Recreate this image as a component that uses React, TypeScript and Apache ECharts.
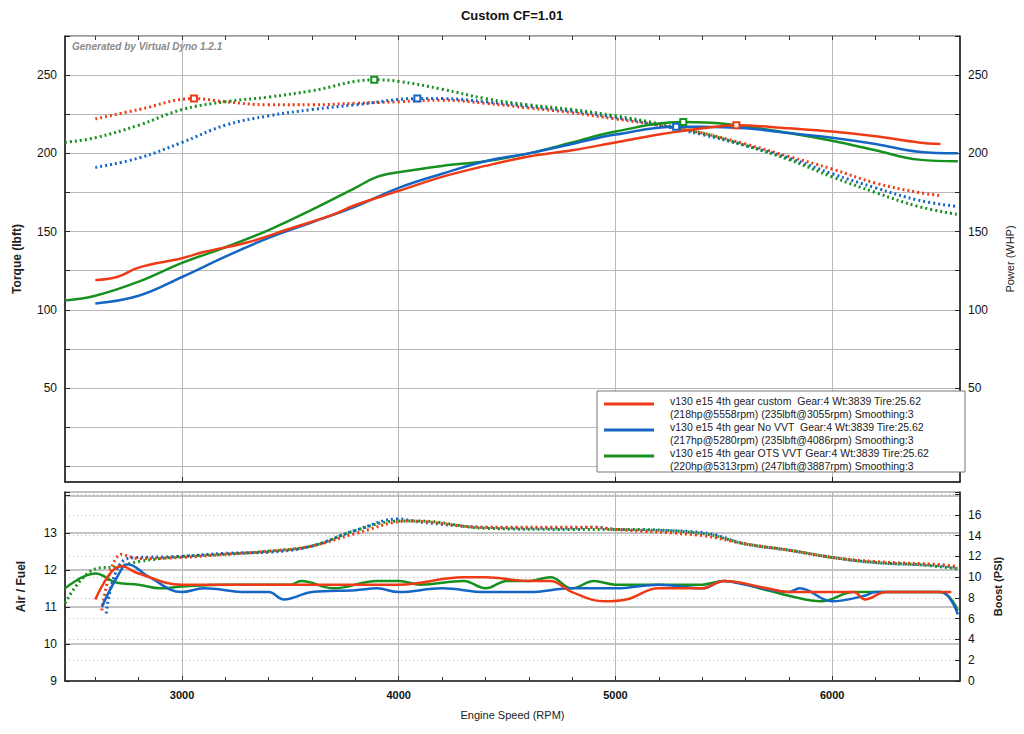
import { useEffect, useRef } from 'react'
import * as echarts from 'echarts'

type P = [number, number]

const RED = '#ee3b16'
const BLUE = '#1566c4'
const GREEN = '#16911f'

// torque (lbft), dotted, left axis
const torqueRed: P[] = [[2600,222],[2800,228],[3055,235],[3200,233],[3400,231],[3600,231],[3800,232],[4000,233],[4200,234],[4400,232],[4600,229],[4800,226],[5000,222],[5200,218],[5400,213],[5600,206],[5800,198],[6000,190],[6200,181],[6400,175],[6500,173]]
const torqueBlue: P[] = [[2600,191],[2800,197],[3000,207],[3200,218],[3400,224],[3600,228],[3800,231],[4086,235],[4200,235],[4400,233],[4600,230],[4800,227],[5000,223],[5200,218],[5400,212],[5600,205],[5800,197],[6000,187],[6200,178],[6400,170],[6580,166]]
const torqueGreen: P[] = [[2460,207],[2600,210],[2800,218],[3000,228],[3200,233],[3400,236],[3600,240],[3887,247],[4000,246],[4200,241],[4400,235],[4600,231],[4800,228],[5000,224],[5200,219],[5400,213],[5600,205],[5800,196],[6000,185],[6200,175],[6400,166],[6580,161]]

// power (WHP), solid
const powerRed: P[] = [[2600,119],[2700,121],[2800,127],[3000,133],[3100,137],[3300,143],[3500,152],[3700,161],[3800,167],[4000,176],[4200,185],[4400,192],[4600,198],[4800,202],[5000,207],[5200,212],[5400,216],[5558,218],[5800,216],[6000,214],[6200,211],[6400,207],[6500,206]]
const powerBlue: P[] = [[2600,104],[2800,109],[3000,121],[3200,134],[3400,146],[3600,156],[3800,166],[4000,178],[4200,187],[4400,195],[4600,200],[4800,206],[5000,212],[5280,217],[5400,217],[5600,216],[5800,213],[6000,210],[6200,206],[6400,201],[6580,200]]
const powerGreen: P[] = [[2460,106],[2600,109],[2800,118],[3000,130],[3200,140],[3400,151],[3600,164],[3800,178],[3900,185],[4000,188],[4200,192],[4400,195],[4600,200],[4800,207],[5000,214],[5313,220],[5500,219],[5800,213],[6000,208],[6200,202],[6400,196],[6580,195]]

const peaks = { torqueRed: 3055, torqueBlue: 4086, torqueGreen: 3887, powerRed: 5558, powerBlue: 5280, powerGreen: 5313 }

// air / fuel, solid
const afrGreen: P[] = [[2460,11.5],[2600,11.9],[2700,11.65],[2800,11.6],[2900,11.5],[3000,11.55],[3200,11.6],[3500,11.6],[3550,11.7],[3700,11.5],[3900,11.7],[4000,11.7],[4100,11.6],[4300,11.7],[4400,11.5],[4500,11.7],[4600,11.7],[4700,11.8],[4800,11.5],[4900,11.7],[5000,11.6],[5200,11.6],[5400,11.6],[5500,11.7],[5700,11.45],[5800,11.3],[5950,11.15],[6100,11.4],[6200,11.4],[6500,11.4],[6580,10.9]]
const afrBlue: P[] = [[2630,11.0],[2700,11.8],[2750,12.15],[2850,11.8],[3000,11.4],[3100,11.5],[3300,11.4],[3400,11.4],[3470,11.2],[3600,11.4],[3800,11.45],[3900,11.5],[4000,11.4],[4200,11.5],[4400,11.4],[4600,11.4],[4800,11.5],[5000,11.5],[5200,11.6],[5400,11.5],[5500,11.7],[5600,11.6],[5800,11.4],[5850,11.5],[6000,11.15],[6150,11.3],[6200,11.4],[6500,11.4],[6580,10.8]]
const afrRed: P[] = [[2600,11.2],[2720,12.1],[2800,11.9],[3000,11.6],[3400,11.6],[4000,11.6],[4300,11.8],[4400,11.8],[4600,11.7],[4700,11.7],[4800,11.4],[4950,11.15],[5050,11.2],[5200,11.5],[5400,11.5],[5500,11.7],[5700,11.5],[5800,11.4],[6000,11.4],[6100,11.4],[6150,11.2],[6250,11.4],[6500,11.4],[6550,11.4]]

// boost (psi), dotted
const boostGreen: P[] = [[2460,7.5],[2600,10.8],[2700,11],[2800,11.5],[3000,12],[3200,12.2],[3400,12.5],[3600,13],[3800,14.5],[4000,15.4],[4100,15.4],[4400,14.7],[4800,14.6],[5000,14.6],[5400,14.2],[5600,13.2],[5800,12.6],[6000,11.9],[6200,11.4],[6400,11.2],[6580,10.8]]
const boostBlue: P[] = [[2650,6.5],[2750,11.8],[3000,12],[3200,12.3],[3400,12.4],[3600,13],[3800,14.5],[4000,15.6],[4100,15.3],[4400,14.8],[4800,14.7],[4900,14.8],[5000,14.6],[5400,14.3],[5600,13.2],[5800,12.6],[6000,11.9],[6200,11.4],[6500,11.1],[6580,10.9]]
const boostRed: P[] = [[2630,6.8],[2720,12.2],[2800,11.8],[3000,11.9],[3200,12.2],[3400,12.5],[3600,13],[3800,14.2],[4050,15.4],[4400,14.8],[4900,14.8],[5000,14.6],[5400,14.0],[5600,13.2],[5800,12.6],[6000,11.9],[6200,11.5],[6500,11.2],[6580,11.0]]

const rpmLabels = [3000, 4000, 5000, 6000]
const rpmMinor = [2600, 2800, 3000, 3200, 3400, 3600, 3800, 4000, 4200, 4400, 4600, 4800, 5000, 5200, 5400, 5600, 5800, 6000, 6200, 6400]
const powerLabels = [50, 100, 150, 200, 250]
const powerTicks = [0, 25, 50, 75, 100, 125, 150, 175, 200, 225, 250, 275]

const legendRows = [
  { color: RED, l1: 'v130 e15 4th gear custom  Gear:4 Wt:3839 Tire:25.62', l2: '(218hp@5558rpm) (235lbft@3055rpm) Smoothing:3' },
  { color: BLUE, l1: 'v130 e15 4th gear No VVT  Gear:4 Wt:3839 Tire:25.62', l2: '(217hp@5280rpm) (235lbft@4086rpm) Smoothing:3' },
  { color: GREEN, l1: 'v130 e15 4th gear OTS VVT Gear:4 Wt:3839 Tire:25.62', l2: '(220hp@5313rpm) (247lbft@3887rpm) Smoothing:3' },
]

const FONT = 'Liberation Sans, Arial, sans-serif'
const X_MIN = 2460
const X_MAX = 6590

function withPeak(d: P[], peak: number) {
  return d.map((p) => (p[0] === peak ? { value: p, symbol: 'emptyRect', symbolSize: 6 } : { value: p }))
}

export default function App() {
  const ref = useRef<HTMLDivElement | null>(null)

  useEffect(() => {
    document.body.style.margin = '0'
    const host = ref.current
    if (!host) return
    const chart = echarts.init(host, undefined, { renderer: 'svg' })

    const axisLine = { show: true, onZero: false, lineStyle: { color: '#222', width: 1.5 } }
    const lbl = { color: '#111', fontSize: 12, fontFamily: FONT }
    const mainX = (gridIndex: number, showLabel: boolean) => ({
      type: 'value', gridIndex, min: X_MIN, max: X_MAX,
      axisLine,
      axisTick: { show: true, customValues: rpmLabels, length: 5, inside: true },
      axisLabel: { show: showLabel, customValues: rpmLabels, ...lbl, fontWeight: 'bold', fontSize: 11, formatter: (v: number) => String(v) },
      splitLine: { show: true, lineStyle: { color: '#b8b8b8', width: 1 } },
      name: showLabel ? 'Engine Speed (RPM)' : '',
      nameLocation: 'middle', nameGap: 28,
      nameTextStyle: { fontSize: 11, fontFamily: FONT, color: '#222' },
    })
    const minorX = (gridIndex: number, position: string) => ({
      type: 'value', gridIndex, min: X_MIN, max: X_MAX, position,
      axisLine: { show: false, onZero: false },
      axisTick: { show: true, customValues: rpmMinor, length: 4, inside: true, lineStyle: { color: '#333' } },
      axisLabel: { show: false },
      splitLine: { show: false },
    })

    const line = (name: string, data: any, color: string, dotted: boolean, xi: number, yi: number) => ({
      name, type: 'line', xAxisIndex: xi, yAxisIndex: yi, data, smooth: 0.4,
      symbol: 'none', showSymbol: true, silent: true,
      itemStyle: { color, borderColor: color },
      lineStyle: { color, width: dotted ? 3 : 2.5, type: dotted ? [2, 3] : 'solid' },
    })

    const graphic: any[] = [
      { type: 'text', left: 'center', top: 9, style: { text: 'Custom CF=1.01', font: `bold 13px ${FONT}`, fill: '#111' } },
      { type: 'text', x: 72, y: 41, style: { text: 'Generated by Virtual Dyno 1.2.1', font: `italic bold 10px ${FONT}`, fill: '#8a8a8a' } },
      { type: 'rect', shape: { x: 597, y: 391, width: 368, height: 81 }, style: { fill: '#fff', stroke: '#777', lineWidth: 1 }, z: 10 },
    ]
    legendRows.forEach((r, i) => {
      const y = 394 + i * 26
      graphic.push({ type: 'line', shape: { x1: 604, y1: y + 10, x2: 654, y2: y + 10 }, style: { stroke: r.color, lineWidth: 3 }, z: 11 })
      graphic.push({ type: 'text', x: 670, y, style: { text: r.l1 + '\n' + r.l2, font: `10.5px ${FONT}`, fill: '#222', lineHeight: 13 }, z: 11 })
    })

    chart.setOption({
      animation: false,
      backgroundColor: '#fff',
      grid: [
        { left: 65, right: 64, top: 36, height: 446, show: true, borderColor: '#333', borderWidth: 1 },
        { left: 65, right: 64, top: 492, height: 189, show: true, borderColor: '#333', borderWidth: 1 },
      ],
      xAxis: [mainX(0, false), minorX(0, 'top'), mainX(1, true), minorX(1, 'bottom')],
      yAxis: [
        {
          type: 'value', gridIndex: 0, min: -10, max: 275, axisLine,
          axisTick: { show: true, customValues: powerTicks, inside: true, length: 5 },
          axisLabel: { customValues: powerLabels, ...lbl },
          splitLine: { show: true, lineStyle: { color: '#b8b8b8' } },
          name: 'Torque (lbft)', nameLocation: 'middle', nameGap: 42,
          nameTextStyle: { fontSize: 12, fontWeight: 'bold', fontFamily: FONT, color: '#222' },
        },
        {
          type: 'value', gridIndex: 0, min: -10, max: 275, position: 'right', axisLine,
          axisTick: { show: true, customValues: powerTicks, inside: true, length: 5 },
          axisLabel: { customValues: powerLabels, ...lbl },
          splitLine: { show: false },
          name: 'Power (WHP)', nameLocation: 'middle', nameGap: 44, nameRotate: 90,
          nameTextStyle: { fontSize: 11, fontFamily: FONT, color: '#222' },
        },
        {
          type: 'value', gridIndex: 1, min: 9, max: 14.1, interval: 1, axisLine,
          axisTick: { show: true, inside: true, length: 5 },
          axisLabel: { ...lbl, formatter: (v: number) => (v > 13 ? '' : String(v)) },
          splitLine: { show: true, lineStyle: { color: '#c4c4c4', width: 2 } },
          name: 'Air / Fuel', nameLocation: 'middle', nameGap: 38,
          nameTextStyle: { fontSize: 12, fontWeight: 'bold', fontFamily: FONT, color: '#222' },
        },
        {
          type: 'value', gridIndex: 1, min: 0, max: 18.2, interval: 2, position: 'right', axisLine,
          axisTick: { show: true, inside: true, length: 5 },
          axisLabel: { ...lbl, formatter: (v: number) => (v > 16 ? '' : String(v)) },
          splitLine: { show: true, lineStyle: { color: '#bdbdbd', type: [1, 3] } },
          name: 'Boost (PSI)', nameLocation: 'middle', nameGap: 30, nameRotate: 90,
          nameTextStyle: { fontSize: 11, fontWeight: 'bold', fontFamily: FONT, color: '#222' },
        },
      ],
      series: [
        line('tq red', withPeak(torqueRed, peaks.torqueRed), RED, true, 0, 0),
        line('tq blue', withPeak(torqueBlue, peaks.torqueBlue), BLUE, true, 0, 0),
        line('tq green', withPeak(torqueGreen, peaks.torqueGreen), GREEN, true, 0, 0),
        line('hp green', withPeak(powerGreen, peaks.powerGreen), GREEN, false, 0, 1),
        line('hp blue', withPeak(powerBlue, peaks.powerBlue), BLUE, false, 0, 1),
        line('hp red', withPeak(powerRed, peaks.powerRed), RED, false, 0, 1),
        line('boost green', boostGreen, GREEN, true, 2, 3),
        line('boost blue', boostBlue, BLUE, true, 2, 3),
        line('boost red', boostRed, RED, true, 2, 3),
        line('afr green', afrGreen, GREEN, false, 2, 2),
        line('afr blue', afrBlue, BLUE, false, 2, 2),
        line('afr red', afrRed, RED, false, 2, 2),
      ],
      graphic,
    })
    return () => chart.dispose()
  }, [])

  return <div ref={ref} style={{ width: 1024, height: 734 }} />
}
